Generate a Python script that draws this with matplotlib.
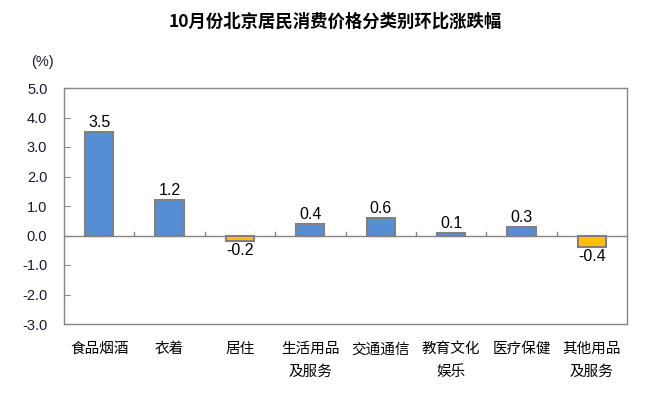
import numpy as np
import matplotlib.pyplot as plt

plt.rcParams['font.family'] = ['Liberation Sans', 'Noto Sans CJK SC', 'DejaVu Sans']

categories = ["食品烟酒", "衣着", "居住", "生活用品\n及服务", "交通通信",
              "教育文化\n娱乐", "医疗保健", "其他用品\n及服务"]
values = [3.5, 1.2, -0.2, 0.4, 0.6, 0.1, 0.3, -0.4]
yticks = [-3.0, -2.0, -1.0, 0.0, 1.0, 2.0, 3.0, 4.0, 5.0]

fig = plt.figure(figsize=(6.59, 3.98), dpi=100)
ax = fig.add_axes([64 / 659, 1 - 324 / 398, 563 / 659, 236 / 398])

x = np.arange(len(values))
colors = ["#558ED5" if v >= 0 else "#FFC000" for v in values]
ax.bar(x, values, width=0.4, color=colors, edgecolor="#808080", linewidth=1.5, zorder=3)

ax.axhline(0, color="#868686", linewidth=1, zorder=2)
for b in np.arange(0.5, len(values) - 0.5, 1):
    ax.plot([b, b], [0, 0.13], color="#868686", linewidth=1, zorder=2)

for xi, v in zip(x, values):
    if v >= 0:
        ax.text(xi, v + 0.06, f"{v:.1f}", ha="center", va="bottom", fontsize=11.5)
    else:
        ax.text(xi, v - 0.06, f"{v:.1f}", ha="center", va="top", fontsize=11.5)

ax.set_xlim(-0.5, len(values) - 0.5)
ax.set_ylim(-3, 5)
ax.set_yticks(yticks)
ax.set_yticklabels([f"{t:.1f}" for t in yticks], fontsize=10.5, color="#1a1a2e")
ax.tick_params(axis="y", direction="in", length=4, color="#868686", pad=12)
ax.set_xticks([])
for s in ax.spines.values():
    s.set_color("#868686")
    s.set_linewidth(1)

for xi, c in zip(x, categories):
    ax.text(xi, -3.62, c, ha="center", va="top", fontsize=10.5,
            family=["Noto Sans CJK SC", "DejaVu Sans"], linespacing=1.75)

fig.text(0.064, 1 - 62 / 398, "(%)", ha="center", va="center", fontsize=10.5, color="#1a1a2e")
fig.text(335 / 659, 1 - 22 / 398, "10月份北京居民消费价格分类别环比涨跌幅", ha="center", va="center",
         fontsize=12.5, fontweight="bold", family=["Noto Sans CJK SC", "DejaVu Sans"])

fig.savefig("out.png", dpi=100)
